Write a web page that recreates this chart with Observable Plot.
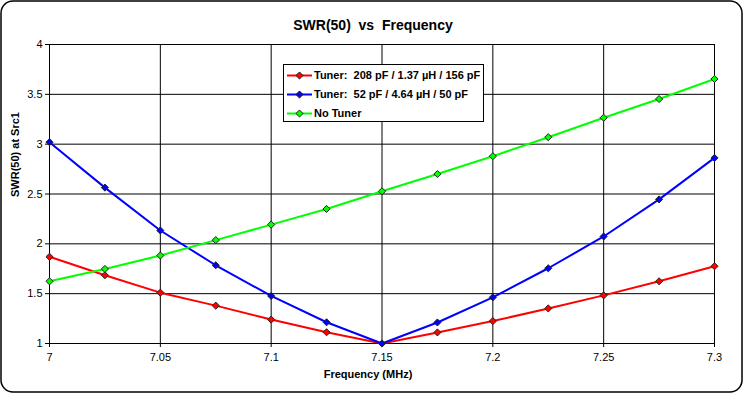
<!DOCTYPE html>
<html>
<head>
<meta charset="utf-8">
<script src="https://cdn.jsdelivr.net/npm/d3@7"></script>
<script src="https://cdn.jsdelivr.net/npm/@observablehq/plot@0.6"></script>
<style>
  html, body { margin: 0; padding: 0; background: white; }
  svg text { white-space: pre; }
</style>
</head>
<body>
<div id="chart"></div>
<script>
const freqs = [7.0, 7.025, 7.05, 7.075, 7.1, 7.125, 7.15, 7.175, 7.2, 7.225, 7.25, 7.275, 7.3];
const seriesNames = ["Tuner:  208 pF / 1.37 µH / 156 pF", "Tuner:  52 pF / 4.64 µH / 50 pF", "No Tuner"];
const seriesColors = ["#ff0000", "#0000ff", "#00ff00"];
const tunerA = [1.87, 1.685, 1.51, 1.38, 1.24, 1.113, 1.0, 1.111, 1.225, 1.352, 1.483, 1.624, 1.775];
const tunerB = [3.02, 2.564, 2.134, 1.785, 1.477, 1.213, 1.0, 1.211, 1.463, 1.755, 2.074, 2.446, 2.862];
const noTuner = [1.624, 1.748, 1.883, 2.037, 2.193, 2.35, 2.527, 2.70, 2.879, 3.07, 3.265, 3.453, 3.654];
const xTicks = [7, 7.05, 7.1, 7.15, 7.2, 7.25, 7.3];
const yTicks = [1, 1.5, 2, 2.5, 3, 3.5, 4];
const titleText = "SWR(50)  vs  Frequency";
const xLabel = "Frequency (MHz)";
const yLabel = "SWR(50) at Src1";

const allValues = [tunerA, tunerB, noTuner];
const data = [];
allValues.forEach((vals, i) => vals.forEach((v, j) => data.push({series: seriesNames[i], f: freqs[j], v})));

const fmt = d => String(d);
const font = "'Liberation Sans', Arial, sans-serif";

const svg = Plot.plot({
  width: 744, height: 394,
  marginLeft: 49, marginRight: 30, marginTop: 44, marginBottom: 51,
  style: {fontFamily: font, fontSize: "11px", background: "white", color: "black"},
  x: {domain: [7, 7.3]},
  y: {domain: [1, 4]},
  color: {domain: seriesNames, range: seriesColors},
  marks: [
    Plot.gridX(xTicks, {stroke: "black", strokeOpacity: 1, strokeWidth: 1}),
    Plot.gridY(yTicks, {stroke: "black", strokeOpacity: 1, strokeWidth: 1}),
    Plot.axisX(xTicks, {tickSize: 4, tickPadding: 6, tickFormat: fmt, label: null, stroke: "black"}),
    Plot.axisY(yTicks, {tickSize: 4, tickPadding: 3, tickFormat: fmt, label: null, stroke: "black"}),
    Plot.line(data, {x: "f", y: "v", z: "series", stroke: "series", strokeWidth: 2}),
    Plot.dot(data, {x: "f", y: "v", fill: "series", stroke: "#222", strokeWidth: 1, symbol: "diamond2", r: 3.2}),
    Plot.text([titleText], {frameAnchor: "top", dy: -24, dx: -9, fontWeight: "bold", fontSize: 14}),
    Plot.text([xLabel], {frameAnchor: "bottom", dy: 34, dx: -14, fontWeight: "bold", fontSize: 11}),
    Plot.text([yLabel], {frameAnchor: "left", dx: -34, dy: 3, rotate: -90, fontWeight: "bold", fontSize: 11})
  ]
});

const s = d3.select(svg);
// outer rounded border
s.insert("rect", ":first-child")
  .attr("x", 1).attr("y", 1).attr("width", 741).attr("height", 391)
  .attr("rx", 12).attr("fill", "white").attr("stroke", "black").attr("stroke-width", 1.5);

// legend
const lg = s.append("g").attr("font-family", font).attr("font-size", 11).attr("font-weight", "bold")
  .attr("text-anchor", "start");
lg.append("rect").attr("x", 283.5).attr("y", 64.5).attr("width", 200).attr("height", 57)
  .attr("fill", "white").attr("stroke", "black").attr("stroke-width", 1);
seriesNames.forEach((name, i) => {
  const y = 75.5 + i * 19;
  lg.append("line").attr("x1", 287).attr("x2", 312).attr("y1", y).attr("y2", y)
    .attr("stroke", seriesColors[i]).attr("stroke-width", 2);
  lg.append("path").attr("d", d3.symbol(d3.symbolDiamond2, 3.2 * 3.2 * Math.PI)())
    .attr("transform", `translate(299.5,${y})`)
    .attr("fill", seriesColors[i]).attr("stroke", "#222").attr("stroke-width", 1);
  lg.append("text").attr("x", 314).attr("y", y).attr("dy", "0.35em")
    .attr("text-anchor", "start").attr("fill", "black").text(name);
});

document.getElementById("chart").appendChild(svg);
</script>
</body>
</html>
